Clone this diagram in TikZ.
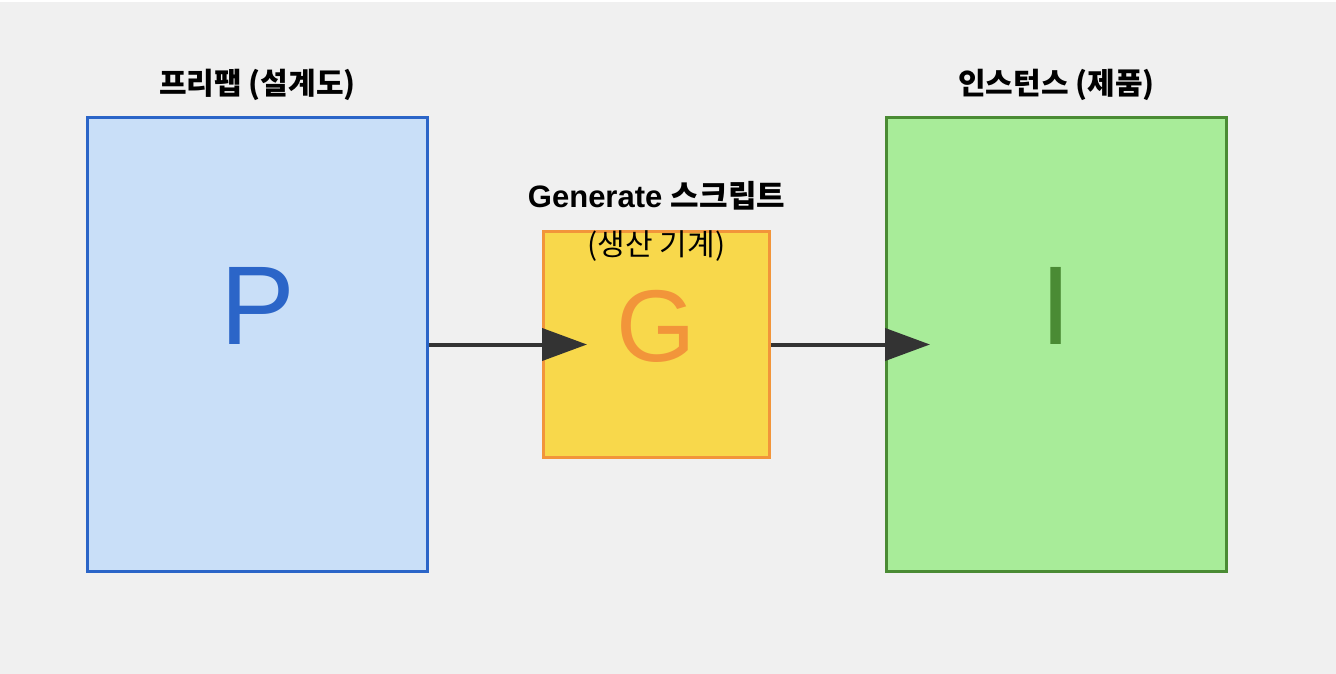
\documentclass[tikz,border=0pt]{standalone}
\usepackage{fontspec}
\setmainfont{Liberation Sans}
\newfontfamily\krfont{Noto Sans CJK KR}
\usetikzlibrary{arrows.meta,positioning}
\definecolor{Canvas}{HTML}{F0F0F0}
\definecolor{Wire}{HTML}{333333}
\definecolor{PrefabLine}{HTML}{2B65C8}
\definecolor{PrefabFill}{HTML}{C9DFF8}
\definecolor{MachineLine}{HTML}{F2953A}
\definecolor{MachineFill}{HTML}{F8D84B}
\definecolor{InstLine}{HTML}{4A8B34}
\definecolor{InstFill}{HTML}{A8EC99}
\tikzset{
  block/.style={draw, line width=3pt, inner sep=0pt},
  prefab/.style={block, draw=PrefabLine, fill=PrefabFill,
    minimum width=340pt, minimum height=454pt},
  machine/.style={block, draw=MachineLine, fill=MachineFill,
    minimum width=226pt, minimum height=226pt},
  instance/.style={block, draw=InstLine, fill=InstFill,
    minimum width=340pt, minimum height=454pt},
  glyph/.style={font=\fontsize{112}{112}\selectfont, inner sep=0pt, anchor=base},
  caption/.style={font=\krfont\bfseries\fontsize{30}{34}\selectfont,
    inner sep=0pt, anchor=base},
  feed/.style={-{Triangle[length=45pt,width=32pt]}, line width=4pt, draw=Wire}
}
\begin{document}
\begin{tikzpicture}[x=1pt,y=-1pt]
  \useasboundingbox (0,0) rectangle (1336,674);
  \fill[white] (0,0) rectangle (1336,674);
  \fill[Canvas] (0,2) rectangle (1336,674);
  % boxes
  \node[prefab] (pbox) at (257.5,344.5) {};
  \node[machine] (gbox) at (656.5,344.5) {};
  \node[instance] (ibox) at (1056.5,344.5) {};
  % big letters
  \node[glyph,text=PrefabLine] (pletter) at (pbox.center) {P};
  \node[glyph,text=MachineLine,font=\fontsize{102}{102}\selectfont]
    (gletter) at ([yshift=-16.5pt]gbox.center) {G};
  \node[glyph,text=InstLine] (iletter) at (ibox.center) {I};
  % titles
  \node[caption] (ptitle) at ([yshift=21pt]pbox.north) {프리팹 (설계도)};
  \node[caption] (ititle) at ([yshift=21pt]ibox.north) {인스턴스 (제품)};
  \node[caption,font=\bfseries\fontsize{31}{35}\selectfont] (gtitle)
    at ([yshift=23pt]gbox.north) {Generate {\krfont\bfseries 스크립트}};
  \node[caption,font=\krfont\fontsize{30}{34}\selectfont] (gsub)
    at ([yshift=-25pt]gbox.north) {(생산 기계)};
  % flow
  \draw[feed] (pbox.east) -- ([xshift=45pt]gbox.west);
  \draw[feed] (gbox.east) -- ([xshift=45pt]ibox.west);
\end{tikzpicture}
\end{document}
